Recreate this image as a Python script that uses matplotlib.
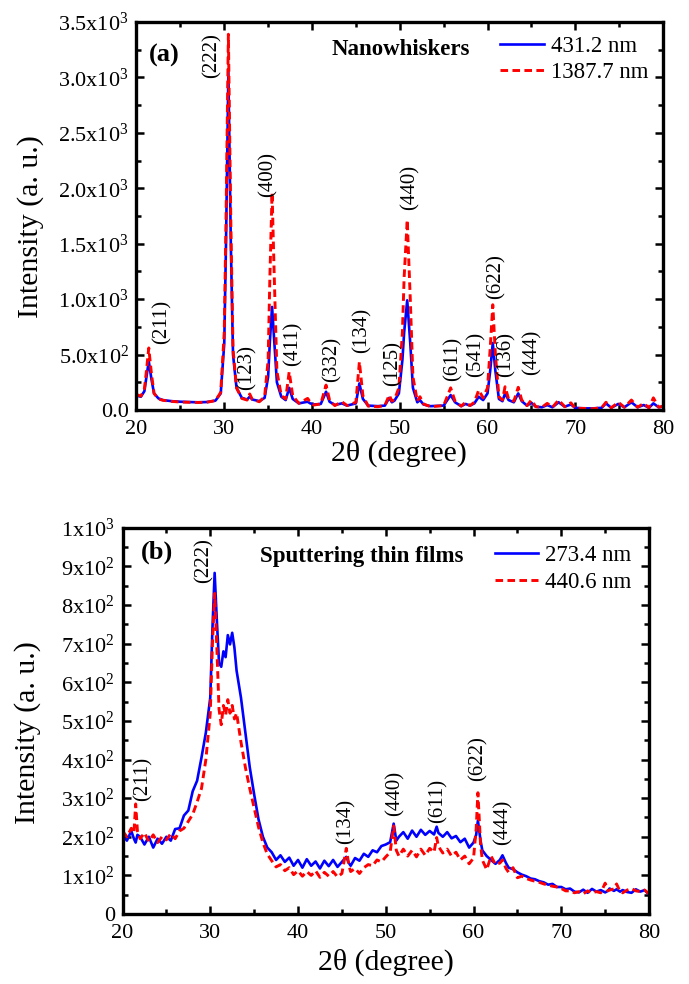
import matplotlib
matplotlib.use("Agg")
import numpy as np
import matplotlib.pyplot as plt
from matplotlib.ticker import MultipleLocator, FixedLocator, FixedFormatter

plt.rcParams['font.family'] = ['Liberation Serif', 'DejaVu Serif']
plt.rcParams['mathtext.fontset'] = 'custom'
plt.rcParams['mathtext.rm'] = 'Liberation Serif'
plt.rcParams['mathtext.it'] = 'Liberation Serif:italic'
plt.rcParams['mathtext.bf'] = 'Liberation Serif:bold'

# ---- panel (a): nanowhiskers, (2theta, intensity)
nw_431 = [(20, 130), (20.5, 120), (20.9, 170), (21.1, 280), (21.4, 440), (21.7, 280), (22.0, 150),
          (22.5, 105), (23, 90), (24, 80), (25, 75), (26, 72), (27, 70), (28, 72), (29, 85), (29.6, 150),
          (30.0, 600), (30.2, 1500), (30.47, 3050), (30.75, 1500), (31.0, 500), (31.4, 200), (32.0, 110),
          (32.6, 95), (32.9, 120), (33.2, 95), (34.0, 80), (34.6, 110), (35.0, 300), (35.2, 620),
          (35.45, 930), (35.7, 620), (36.0, 250), (36.5, 120), (37.0, 90), (37.4, 200), (37.8, 100),
          (38.5, 60), (39.5, 75), (39.8, 60), (40.2, 50), (41.0, 55), (41.6, 165), (42.0, 75), (42.6, 45),
          (43.4, 60), (44.0, 40), (45.0, 60), (45.4, 240), (45.8, 100), (46.4, 40), (47.5, 35), (48.3, 40),
          (48.8, 110), (49.1, 70), (49.4, 85), (49.9, 150), (50.3, 450), (50.5, 700), (50.85, 990),
          (51.2, 600), (51.5, 200), (52.0, 70), (52.3, 90), (52.7, 50), (53.5, 35), (55.0, 40), (55.8, 135),
          (56.3, 70), (57.0, 35), (57.5, 55), (58.0, 40), (58.5, 60), (59.0, 120), (59.5, 90), (60.0, 150),
          (60.3, 350), (60.6, 605), (60.9, 350), (61.3, 100), (61.7, 80), (62.0, 150), (62.4, 90),
          (63.0, 70), (63.5, 150), (63.9, 80), (64.5, 40), (65.0, 65), (65.5, 30), (66.2, 25), (66.8, 45),
          (67.4, 25), (68.1, 70), (68.8, 30), (69.5, 50), (70.0, 20), (71.0, 15), (72.0, 15), (73.0, 20),
          (73.5, 60), (74.1, 20), (74.9, 55), (75.6, 25), (76.4, 70), (77.1, 25), (77.8, 45), (78.4, 20),
          (78.9, 60), (79.5, 25), (80, 30)]
nw_1387 = [(20, 140), (20.5, 125), (20.9, 190), (21.1, 330), (21.4, 560), (21.7, 330), (22.0, 150),
           (22.5, 100), (23, 88), (24, 78), (25, 72), (26, 70), (27, 68), (28, 70), (29, 85), (29.6, 160),
           (30.0, 700), (30.2, 1700), (30.47, 3390), (30.75, 1700), (31.0, 550), (31.4, 200), (32.0, 105),
           (32.6, 90), (32.9, 145), (33.2, 95), (34.0, 75), (34.6, 120), (35.0, 450), (35.2, 1200),
           (35.45, 1960), (35.7, 1200), (36.0, 350), (36.5, 130), (37.0, 100), (37.4, 345), (37.8, 130),
           (38.5, 60), (39.5, 105), (39.8, 70), (40.2, 45), (41.0, 55), (41.6, 225), (42.0, 90), (42.6, 40),
           (43.4, 75), (44.0, 40), (45.0, 70), (45.4, 435), (45.8, 130), (46.4, 35), (47.5, 30), (48.3, 40),
           (48.8, 135), (49.1, 80), (49.4, 95), (49.9, 200), (50.3, 700), (50.5, 1200), (50.85, 1715),
           (51.2, 1000), (51.5, 300), (52.0, 80), (52.3, 120), (52.7, 55), (53.5, 30), (55.0, 40), (55.8, 200),
           (56.3, 80), (57.0, 35), (57.5, 70), (58.0, 40), (58.5, 70), (59.0, 180), (59.5, 110), (60.0, 200),
           (60.3, 550), (60.6, 950), (60.9, 500), (61.3, 120), (61.7, 90), (62.0, 210), (62.4, 100),
           (63.0, 80), (63.5, 205), (63.9, 90), (64.5, 40), (65.0, 90), (65.5, 30), (66.2, 25), (66.8, 60),
           (67.4, 25), (68.1, 90), (68.8, 30), (69.5, 65), (70.0, 15), (71.0, 15), (72.0, 12), (73.0, 20),
           (73.5, 70), (74.1, 20), (74.9, 70), (75.6, 25), (76.4, 90), (77.1, 25), (77.8, 60), (78.4, 20),
           (78.9, 110), (79.5, 25), (80, 35)]

# ---- panel (b): sputtered thin films
tf_273 = [(20, 205), (20.5, 190), (21, 215), (21.3, 195), (21.5, 185), (21.7, 205), (22, 200), (22.5, 180),
          (23, 200), (23.5, 172), (24, 195), (24.5, 182), (25, 200), (25.5, 190), (26, 220), (26.5, 222),
          (27, 255), (27.5, 268), (28, 318), (28.5, 345), (29, 405), (29.5, 470), (30, 560), (30.25, 740),
          (30.5, 883), (30.75, 760), (31, 650), (31.25, 640), (31.5, 680), (31.75, 665), (32, 722),
          (32.25, 698), (32.5, 728), (32.75, 690), (33, 630), (33.5, 560), (34, 470), (34.5, 380), (35, 310),
          (35.5, 245), (36, 200), (36.5, 172), (37, 160), (37.5, 140), (38, 152), (38.5, 135), (39, 146),
          (39.5, 125), (40, 140), (40.5, 120), (41, 142), (41.5, 125), (42, 136), (42.5, 118), (43, 138),
          (43.5, 124), (44, 140), (44.5, 122), (45, 135), (45.5, 148), (45.8, 132), (46, 125), (46.5, 145),
          (47, 138), (47.5, 156), (48, 148), (48.5, 165), (49, 160), (49.5, 176), (50, 180), (50.5, 186),
          (50.9, 234), (51.2, 190), (51.5, 200), (52, 212), (52.5, 195), (53, 216), (53.5, 200), (54, 218),
          (54.5, 205), (55, 215), (55.5, 206), (55.8, 226), (56, 210), (56.5, 200), (57, 212), (57.5, 196),
          (58, 202), (58.5, 186), (59, 195), (59.5, 172), (60, 185), (60.3, 205), (60.5, 242), (60.8, 190),
          (61, 165), (61.5, 150), (62, 140), (62.5, 130), (63, 140), (63.3, 152), (63.7, 132), (64, 120),
          (64.5, 116), (65, 108), (65.5, 102), (66, 98), (66.5, 92), (67, 90), (67.5, 85), (68, 82),
          (68.5, 76), (69, 78), (69.5, 70), (70, 70), (70.5, 64), (71, 66), (71.5, 58), (72, 56), (72.5, 63),
          (73, 55), (73.5, 65), (74, 58), (74.5, 62), (75, 56), (75.3, 60), (75.5, 66), (76, 60), (76.3, 64),
          (76.7, 58), (77, 62), (77.5, 57), (78, 55), (78.5, 64), (79, 58), (79.5, 62), (80, 50)]
tf_440 = [(20, 215), (20.5, 200), (21, 222), (21.3, 210), (21.5, 285), (21.7, 215), (22, 195), (22.5, 210),
          (23, 188), (23.5, 205), (24, 185), (24.5, 200), (25, 192), (25.5, 208), (26, 195), (26.5, 215),
          (27, 222), (27.5, 240), (28, 258), (28.5, 290), (29, 325), (29.5, 400), (30, 520), (30.25, 700),
          (30.5, 830), (30.75, 690), (31, 530), (31.25, 490), (31.5, 540), (31.75, 515), (32, 555),
          (32.25, 520), (32.5, 540), (32.75, 505), (33, 520), (33.5, 445), (34, 380), (34.5, 325), (35, 275),
          (35.5, 225), (36, 185), (36.5, 155), (37, 138), (37.5, 122), (38, 128), (38.5, 112), (39, 120),
          (39.5, 102), (40, 112), (40.5, 98), (41, 110), (41.5, 100), (42, 112), (42.5, 95), (43, 108),
          (43.5, 98), (44, 110), (44.5, 96), (45, 105), (45.5, 170), (45.8, 125), (46, 110), (46.5, 118),
          (47, 105), (47.5, 120), (48, 128), (48.5, 125), (49, 140), (49.5, 135), (50, 148), (50.5, 160),
          (50.9, 228), (51.2, 165), (51.5, 150), (52, 168), (52.5, 150), (53, 165), (53.5, 148), (54, 168),
          (54.5, 152), (55, 170), (55.5, 160), (55.8, 198), (56, 175), (56.5, 158), (57, 168), (57.5, 150),
          (58, 160), (58.5, 140), (59, 150), (59.5, 130), (60, 145), (60.3, 220), (60.5, 314), (60.8, 180),
          (61, 140), (61.5, 115), (62, 150), (62.5, 128), (63, 132), (63.3, 140), (63.7, 118), (64, 108),
          (64.5, 120), (65, 94), (65.5, 98), (66, 92), (66.5, 88), (67, 85), (67.5, 82), (68, 78), (68.5, 75),
          (69, 72), (69.5, 70), (70, 66), (70.5, 60), (71, 60), (71.5, 55), (72, 58), (72.5, 52), (73, 60),
          (73.5, 55), (74, 58), (74.5, 55), (75, 80), (75.3, 60), (75.5, 62), (76, 65), (76.3, 78),
          (76.7, 58), (77, 55), (77.5, 62), (78, 66), (78.5, 60), (79, 58), (79.5, 62), (80, 52)]

a_peaks = ['(211)', '(222)', '(123)', '(400)', '(411)', '(332)', '(134)', '(125)', '(440)',
           '(611)', '(541)', '(622)', '(136)', '(444)']
b_peaks = ['(211)', '(222)', '(134)', '(440)', '(611)', '(622)', '(444)']

a_yticks = [0, 500, 1000, 1500, 2000, 2500, 3000, 3500]
a_yticklabels = ['0.0', r'5.0x10$^{2}$', r'1.0x10$^{3}$', r'1.5x10$^{3}$', r'2.0x10$^{3}$',
                 r'2.5x10$^{3}$', r'3.0x10$^{3}$', r'3.5x10$^{3}$']
b_yticks = [0, 100, 200, 300, 400, 500, 600, 700, 800, 900, 1000]
b_yticklabels = ['0'] + [r'%dx10$^{2}$' % k for k in range(1, 10)] + [r'1x10$^{3}$']

BLUE = '#0000ff'
RED = '#ff0000'


def style_axes(ax, yticks, yticklabels, ymax, yminor):
    ax.set_xlim(20, 80)
    ax.set_ylim(0, ymax)
    ax.xaxis.set_major_locator(MultipleLocator(10))
    ax.xaxis.set_minor_locator(MultipleLocator(5))
    ax.yaxis.set_major_locator(FixedLocator(yticks))
    ax.yaxis.set_major_formatter(FixedFormatter(yticklabels))
    ax.yaxis.set_minor_locator(MultipleLocator(yminor))
    ax.tick_params(which='both', direction='in', top=True, right=True, width=1.8)
    ax.tick_params(which='major', length=6)
    ax.tick_params(which='minor', length=3.5)
    ax.tick_params(axis='y', labelsize=16, pad=5.5)
    ax.tick_params(axis='x', labelsize=16, pad=7)
    for s in ax.spines.values():
        s.set_linewidth(2.4)
    ax.set_xlabel('2θ (degree)', fontsize=21.5, va='center')
    ax.set_ylabel('Intensity (a. u.)', fontsize=21.5, va='center')


def draw(ax, s1, s2, lab1, lab2):
    x1, y1 = zip(*s1)
    x2, y2 = zip(*s2)
    ax.plot(x1, y1, color=BLUE, lw=1.9, label=lab1)
    ax.plot(x2, y2, color=RED, lw=2.1, ls=(0, (2.6, 1.5)), label=lab2)


fig = plt.figure(figsize=(6.89, 9.84), dpi=100)
ax1 = fig.add_axes([0.1981, 0.5833, 0.7642, 0.3943])
ax2 = fig.add_axes([0.1778, 0.0711, 0.7642, 0.3926])

# panel (a)
draw(ax1, nw_431, nw_1387, '431.2 nm', '1387.7 nm')
style_axes(ax1, a_yticks, a_yticklabels, 3500, 250)
ax1.xaxis.set_label_coords(0.4986, -0.111)
ax1.yaxis.set_label_coords(-0.202, 0.474)
a_pos = [(22.9, 793), (28.6, 3198), (32.6, 387), (35.0, 2126), (37.85, 595), (42.3, 459), (45.7, 721),
         (49.25, 423), (51.2, 2009), (56.1, 459), (58.7, 505), (61.0, 1207), (62.1, 505), (65.1, 523)]
for lab, (px, py) in zip(a_peaks, a_pos):
    ax1.text(px, py, lab, rotation=90, ha='center', va='center', fontsize=15)
ax1.text(0.0525, 0.913, '(a)', transform=ax1.transAxes, fontsize=19, fontweight='bold',
         ha='center', va='center')
ax1.text(0.371, 0.930, 'Nanowhiskers', transform=ax1.transAxes, fontsize=16.5,
         fontweight='bold', ha='left', va='center')
ax1.legend(loc='upper right', bbox_to_anchor=(0.9715, 0.965), frameon=False, fontsize=16.5,
           handlelength=1.9, handletextpad=0.3, labelspacing=0.25, borderpad=0, borderaxespad=0)

# panel (b)
draw(ax2, tf_273, tf_440, '273.4 nm', '440.6 nm')
style_axes(ax2, b_yticks, b_yticklabels, 1000, 50)
ax2.xaxis.set_label_coords(0.5, -0.124)
ax2.yaxis.set_label_coords(-0.18, 0.47)
b_pos = [(22.3, 351), (29.3, 915), (45.5, 240), (51.1, 313), (56.0, 292), (60.5, 403), (63.4, 238)]
for lab, (px, py) in zip(b_peaks, b_pos):
    ax2.text(px, py, lab, rotation=90, ha='center', va='center', fontsize=15)
ax2.text(0.066, 0.937, '(b)', transform=ax2.transAxes, fontsize=19, fontweight='bold',
         ha='center', va='center')
ax2.text(0.261, 0.925, 'Sputtering thin films', transform=ax2.transAxes, fontsize=16.5,
         fontweight='bold', ha='left', va='center')
ax2.legend(loc='upper right', bbox_to_anchor=(0.967, 0.956), frameon=False, fontsize=16.5,
           handlelength=1.9, handletextpad=0.3, labelspacing=0.25, borderpad=0, borderaxespad=0)

fig.savefig('out.png', dpi=100)
